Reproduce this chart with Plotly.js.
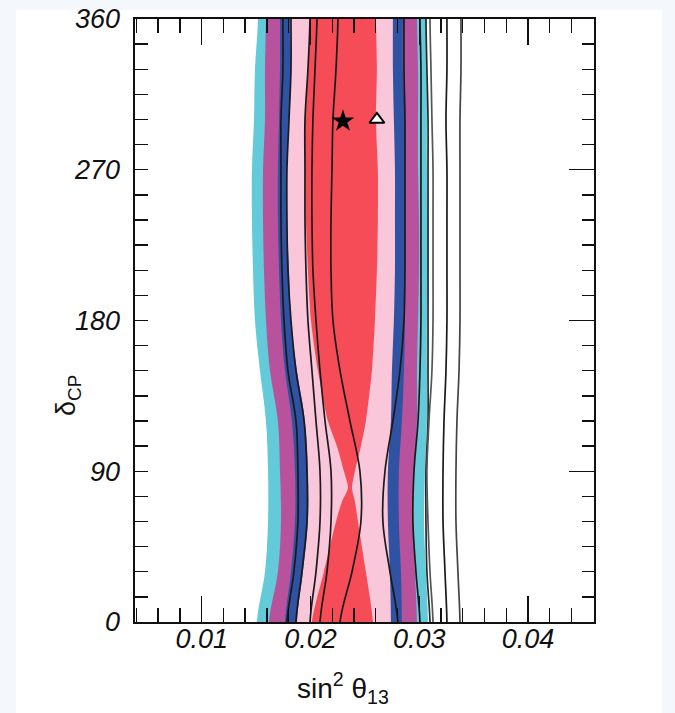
<!DOCTYPE html>
<html>
<head>
<meta charset="utf-8">
<script src="https://cdn.plot.ly/plotly-3.0.1.min.js"></script>
<style>html,body{margin:0;padding:0;background:#f4f8fc;}#chart{width:675px;height:713px;}</style>
</head>
<body>
<div id="chart"></div>
<script>
// delta_CP grid (degrees)
const dcp = [0, 30, 60, 90, 120, 150, 180, 210, 240, 270, 300, 330, 360];

// filled regions: left / right boundaries of sin^2(theta13) at each dcp
const cyanL = [0.01508, 0.01582, 0.01610, 0.01610, 0.01591, 0.01536, 0.01490, 0.01472, 0.01462, 0.01462, 0.01481, 0.01490, 0.01518];
const cyanR = [0.03081, 0.03062, 0.03044, 0.03053, 0.03071, 0.03071, 0.03071, 0.03081, 0.03081, 0.03071, 0.03071, 0.03071, 0.03071];
const magL  = [0.01619, 0.01701, 0.01729, 0.01720, 0.01701, 0.01628, 0.01591, 0.01573, 0.01564, 0.01564, 0.01582, 0.01582, 0.01591];
const magR  = [0.02979, 0.02961, 0.02942, 0.02952, 0.02979, 0.02979, 0.02989, 0.02998, 0.02998, 0.02989, 0.02989, 0.02989, 0.02979];
const blueL = [0.01766, 0.01821, 0.01858, 0.01858, 0.01830, 0.01766, 0.01729, 0.01711, 0.01701, 0.01701, 0.01711, 0.01720, 0.01720];
const blueR = [0.02841, 0.02832, 0.02813, 0.02813, 0.02841, 0.02860, 0.02869, 0.02869, 0.02869, 0.02869, 0.02869, 0.02850, 0.02850];
const pinkL = [0.01876, 0.01931, 0.01977, 0.01977, 0.01950, 0.01876, 0.01821, 0.01803, 0.01784, 0.01784, 0.01803, 0.01821, 0.01812];
const pinkR = [0.02740, 0.02731, 0.02712, 0.02712, 0.02740, 0.02749, 0.02767, 0.02777, 0.02777, 0.02777, 0.02767, 0.02758, 0.02758];

// innermost (red) region has its own grid because of the pinch near 80 deg
const dcpRed = [0, 30, 60, 72, 80, 90, 105, 120, 150, 180, 210, 240, 270, 300, 330, 360];
const redL = [0.02014, 0.02124, 0.02235, 0.02290, 0.02345, 0.02308, 0.02244, 0.02161, 0.02069, 0.02005, 0.01977, 0.01959, 0.01950, 0.01950, 0.01977, 0.02005];
const redR = [0.02575, 0.02510, 0.02437, 0.02409, 0.02382, 0.02409, 0.02464, 0.02510, 0.02565, 0.02593, 0.02611, 0.02620, 0.02620, 0.02602, 0.02611, 0.02602];

// contour lines (sin^2 theta13 at each dcp)
const lineA = [0.01784, 0.01848, 0.01885, 0.01885, 0.01867, 0.01793, 0.01757, 0.01738, 0.01729, 0.01729, 0.01729, 0.01747, 0.01747];
const lineB = [0.01867, 0.01922, 0.01968, 0.01968, 0.01941, 0.01867, 0.01821, 0.01793, 0.01784, 0.01784, 0.01803, 0.01821, 0.01821];
const lineC = [0.01996, 0.02051, 0.02088, 0.02088, 0.02051, 0.02014, 0.01977, 0.01959, 0.01950, 0.01950, 0.01950, 0.01977, 0.01996];
const lineD = [0.02088, 0.02152, 0.02189, 0.02189, 0.02134, 0.02088, 0.02051, 0.02023, 0.02014, 0.02014, 0.02023, 0.02042, 0.02060];
const lineE = [0.02272, 0.02382, 0.02464, 0.02455, 0.02363, 0.02272, 0.02207, 0.02189, 0.02189, 0.02198, 0.02207, 0.02235, 0.02253];
const lineF = [0.02804, 0.02731, 0.02666, 0.02685, 0.02758, 0.02823, 0.02860, 0.02869, 0.02869, 0.02869, 0.02869, 0.02860, 0.02860];
const lineG = [0.03007, 0.02970, 0.02942, 0.02952, 0.02989, 0.03007, 0.03016, 0.03016, 0.03016, 0.03016, 0.03016, 0.03016, 0.03007];
const lineH = [0.03099, 0.03071, 0.03062, 0.03062, 0.03081, 0.03081, 0.03081, 0.03081, 0.03081, 0.03081, 0.03081, 0.03071, 0.03062];
const lineI = [0.03127, 0.03099, 0.03081, 0.03071, 0.03090, 0.03117, 0.03127, 0.03127, 0.03127, 0.03127, 0.03117, 0.03108, 0.03099];
const lineJ = [0.03255, 0.03237, 0.03219, 0.03219, 0.03228, 0.03246, 0.03255, 0.03255, 0.03255, 0.03255, 0.03246, 0.03255, 0.03255];
const lineK = [0.03375, 0.03356, 0.03338, 0.03338, 0.03347, 0.03366, 0.03375, 0.03375, 0.03375, 0.03375, 0.03375, 0.03384, 0.03384];

// best-fit points
const starPt = {x: [0.02299], y: [299]};
const triPt  = {x: [0.02611], y: [300]};

const xTicks = [0.01, 0.02, 0.03, 0.04];
const xTickText = ['0.01', '0.02', '0.03', '0.04'];
const yTicks = [0, 90, 180, 270, 360];
const yTickText = ['0', '90', '180', '270', '360'];

const FONT = 'Liberation Sans, Arial, Helvetica, sans-serif';

function extendY(ys) { return [-40].concat(ys, [400]); }
function extendX(xs) { return [xs[0]].concat(xs, [xs[xs.length - 1]]); }

function band(left, right, ys, color, sm) {
  const yy = extendY(ys);
  const xl = extendX(left), xr = extendX(right);
  return {
    type: 'scatter', mode: 'lines',
    x: xl.concat(xr.slice().reverse()),
    y: yy.concat(yy.slice().reverse()),
    fill: 'toself', fillcolor: color,
    line: {width: 0, color: color, shape: 'spline', smoothing: sm},
    hoverinfo: 'skip', showlegend: false
  };
}
function contour(xs, color, w) {
  return {
    type: 'scatter', mode: 'lines',
    x: extendX(xs), y: extendY(dcp),
    line: {color: color, width: w, shape: 'spline', smoothing: 1},
    hoverinfo: 'skip', showlegend: false
  };
}

const traces = [
  band(cyanL, cyanR, dcp, 'rgb(98,202,216)', 1),
  band(magL, magR, dcp, 'rgb(184,82,156)', 1),
  band(blueL, blueR, dcp, 'rgb(48,82,162)', 1),
  band(pinkL, pinkR, dcp, 'rgb(250,198,218)', 1),
  band(redL, redR, dcpRed, 'rgb(246,76,88)', 0.7),
  contour(lineA, '#1a1a1a', 1.7),
  contour(lineB, '#1a1a1a', 1.7),
  contour(lineC, '#1a1a1a', 1.7),
  contour(lineD, '#1a1a1a', 1.7),
  contour(lineE, '#1a1a1a', 1.7),
  contour(lineF, '#1a1a1a', 1.7),
  contour(lineG, '#1a1a1a', 1.7),
  contour(lineH, '#2a2a2a', 1.7),
  contour(lineI, '#555', 1.7),
  contour(lineJ, '#1a1a1a', 1.7),
  contour(lineK, '#444', 1.7),
  {type: 'scatter', mode: 'markers', x: starPt.x, y: starPt.y,
   marker: {symbol: 'star', size: 17, color: '#000'}, hoverinfo: 'skip', showlegend: false},
  {type: 'scatter', mode: 'markers', x: triPt.x, y: triPt.y,
   marker: {symbol: 'triangle-up', size: 13, color: '#fff', line: {color: '#000', width: 2}}, hoverinfo: 'skip', showlegend: false},
  {type: 'scatter', mode: 'markers', x: [null], y: [null], yaxis: 'y2', hoverinfo: 'skip', showlegend: false}
];

const tickFont = {family: FONT, size: 27, color: '#111', style: 'italic'};

const layout = {
  width: 675, height: 713,
  margin: {l: 135, r: 81, t: 19, b: 91, pad: 0},
  paper_bgcolor: '#f4f8fc',
  plot_bgcolor: '#ffffff',
  showlegend: false,
  xaxis: {
    range: [0.00387, 0.04607], tickmode: 'array', tickvals: xTicks, ticktext: xTickText,
    ticks: 'inside', ticklen: 26, tickwidth: 1.4, tickcolor: '#111',
    minor: {dtick: 0.002, tick0: 0, ticks: 'inside', ticklen: 14, tickwidth: 1.4, tickcolor: '#111', showgrid: false},
    showline: true, linecolor: '#111', linewidth: 1.6, mirror: 'ticks',
    showgrid: false, zeroline: false, tickfont: tickFont, ticklabelstandoff: -8,
    fixedrange: true
  },
  yaxis: {
    range: [0, 360], tickmode: 'array', tickvals: yTicks, ticktext: yTickText,
    ticks: 'inside', ticklen: 13, tickwidth: 1.4, tickcolor: '#111',
    minor: {dtick: 15, tick0: 0, ticks: 'inside', ticklen: 13, tickwidth: 1.4, tickcolor: '#111', showgrid: false},
    showline: true, linecolor: '#111', linewidth: 1.6,
    showgrid: false, zeroline: false, tickfont: tickFont, ticklabelstandoff: 8,
    fixedrange: true
  },
  yaxis2: {
    range: [0, 360], overlaying: 'y', side: 'right', anchor: 'x',
    tickmode: 'linear', tick0: 0, dtick: 90, showticklabels: false,
    ticks: 'inside', ticklen: 25, tickwidth: 1.4, tickcolor: '#111',
    minor: {dtick: 15, tick0: 0, ticks: 'inside', ticklen: 12, tickwidth: 1.4, tickcolor: '#111', showgrid: false},
    showline: true, linecolor: '#111', linewidth: 1.6,
    showgrid: false, zeroline: false, fixedrange: true
  },
  shapes: [
    {type: 'rect', xref: 'paper', yref: 'paper', x0: -0.2593, x1: 1.1481, y0: -0.16, y1: 1.0149,
     fillcolor: '#ffffff', line: {width: 0}, layer: 'below'}
  ],
  annotations: [
    {text: 'sin<sup>2</sup> θ<sub>13</sub>', xref: 'paper', yref: 'paper', x: 0.453, y: -0.1095,
     xanchor: 'center', yanchor: 'middle', showarrow: false,
     font: {family: FONT, size: 28, color: '#111'}},
    {text: 'δ<sub>CP</sub>', xref: 'paper', yref: 'paper', x: -0.146, y: 0.3765,
     xanchor: 'center', yanchor: 'middle', showarrow: false, textangle: -90,
     font: {family: FONT, size: 27, color: '#111'}}
  ]
};

Plotly.newPlot('chart', traces, layout, {displayModeBar: false, staticPlot: true});
</script>
</body>
</html>
